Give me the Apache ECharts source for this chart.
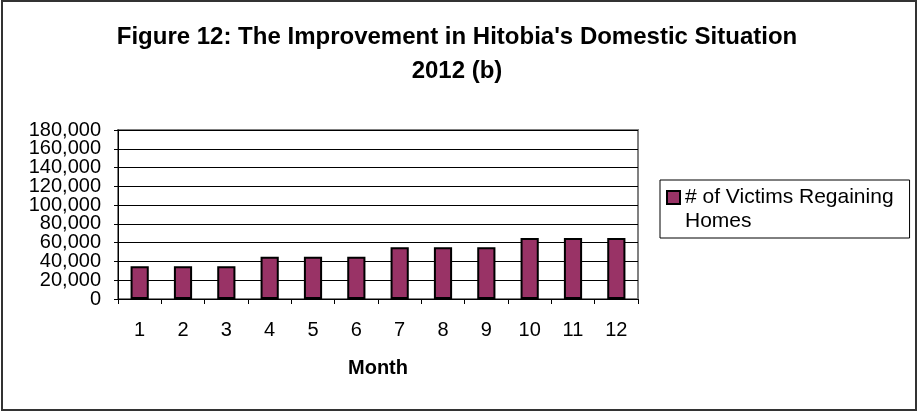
<!DOCTYPE html>
<html>
<head>
<meta charset="utf-8">
<script src="https://cdn.jsdelivr.net/npm/echarts@6/dist/echarts.min.js"></script>
<style>
html,body{margin:0;padding:0;background:#fff;}
#main{width:918px;height:412px;}
</style>
</head>
<body>
<div id="main"></div>
<script>
// chart data
var months = ['1','2','3','4','5','6','7','8','9','10','11','12'];
var victimsRegainingHomes = [35000,35000,35000,45000,45000,45000,55000,55000,55000,65000,65000,65000];
var seriesName = '# of Victims Regaining\nHomes';
var titleText = "Figure 12: The Improvement in Hitobia's Domestic Situation\n2012 (b)";
var yMax = 180000;
var yStep = 20000;

var FONT = 'Liberation Sans, Arial, sans-serif';

var myChart = echarts.init(document.getElementById('main'));

// labels are tightly packed; split them over two stacked axes so none get dropped
function yLabel(even) {
	return function (v) {
		var idx = Math.round(v / yStep);
		return (idx % 2 === 0) === even ? v.toLocaleString('en-US') : '';
	};
}

function yAxisDef(even, main) {
	return {
		type: 'value',
		position: 'left',
		offset: 0,
		min: 0,
		max: yMax,
		interval: yStep,
		axisLine: {show: main, lineStyle: {color: '#000', width: 1}},
		axisTick: {show: main, length: 4, lineStyle: {color: '#000'}},
		axisLabel: {
			fontFamily: FONT,
			fontSize: 20,
			color: '#000',
			margin: 17,
			showMinLabel: true,
			showMaxLabel: true,
			formatter: yLabel(even)
		},
		splitLine: {show: main, lineStyle: {color: '#000', width: 1}}
	};
}

var option = {
	backgroundColor: '#fff',
	animation: false,
	textStyle: {fontFamily: FONT, color: '#000'},
	graphic: [
		{
			type: 'rect',
			shape: {x: 2, y: 1, width: 914, height: 409},
			style: {fill: 'none', stroke: '#333', lineWidth: 2},
			silent: true
		}
	],
	title: {
		text: titleText,
		left: 457,
		top: 20,
		textAlign: 'center',
		padding: 0,
		textStyle: {
			fontFamily: FONT,
			fontSize: 24,
			fontWeight: 'bold',
			color: '#000',
			lineHeight: 34
		}
	},
	legend: {
		data: [seriesName],
		left: 660,
		top: 180,
		orient: 'vertical',
		borderColor: '#000',
		borderWidth: 1,
		padding: [5, 16, 5, 6],
		// square sits at the top of a taller box so it lines up with the first text line
		icon: 'path://M0,0h13v13h-13zM0,36',
		itemWidth: 13,
		itemHeight: 36,
		textStyle: {
			fontFamily: FONT,
			fontSize: 21,
			color: '#000',
			lineHeight: 24
		}
	},
	grid: {
		left: 118,
		right: 280,
		top: 130,
		bottom: 113,
		show: true,
		borderColor: '#808080',
		borderWidth: 2,
		containLabel: false
	},
	xAxis: {
		type: 'category',
		data: months,
		name: 'Month',
		nameLocation: 'middle',
		nameGap: 59,
		nameTextStyle: {fontFamily: FONT, fontSize: 20, fontWeight: 'bold', color: '#000'},
		axisLine: {lineStyle: {color: '#000', width: 1}},
		axisTick: {show: true, length: 5, lineStyle: {color: '#000'}},
		axisLabel: {fontFamily: FONT, fontSize: 20, color: '#000', margin: 21},
		splitLine: {show: false}
	},
	yAxis: [yAxisDef(true, true), yAxisDef(false, false)],
	series: [
		{
			name: seriesName,
			type: 'bar',
			data: victimsRegainingHomes,
			barWidth: '42%',
			itemStyle: {
				color: '#993366',
				borderColor: '#000',
				borderWidth: 2
			}
		}
	]
};

myChart.setOption(option);
</script>
</body>
</html>
